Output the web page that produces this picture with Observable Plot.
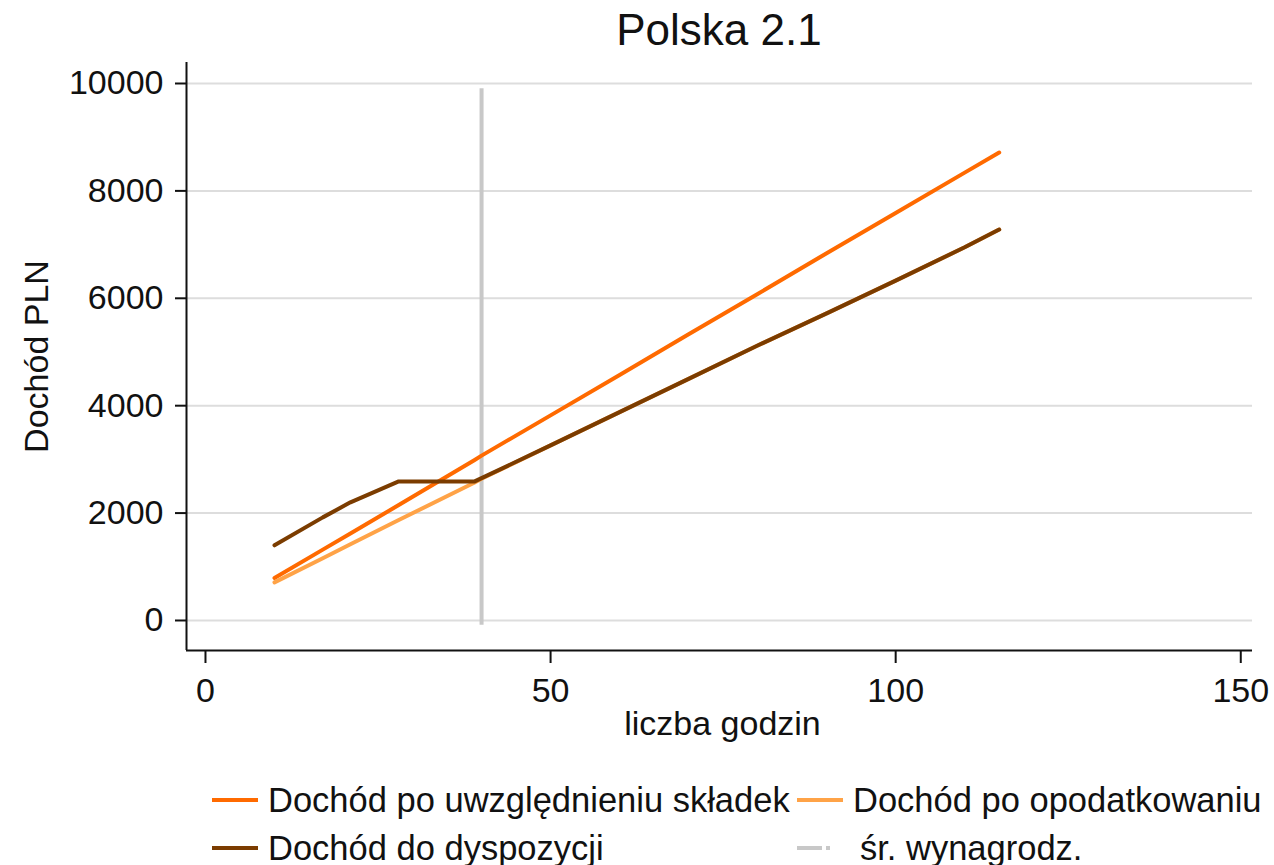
<!DOCTYPE html>
<html><head><meta charset="utf-8">
<script src="https://cdn.jsdelivr.net/npm/d3@7"></script>
<script src="https://cdn.jsdelivr.net/npm/@observablehq/plot@0.6"></script>
<style>
body{margin:0;background:#fff;font-family:"Liberation Sans",Arial,sans-serif;}
#wrap{position:relative;width:1274px;height:865px;overflow:hidden;background:#fff;}
#title{position:absolute;left:186px;width:1066px;top:0;height:60px;line-height:60px;text-align:center;font-size:44px;color:#111;}
#chart{position:absolute;left:0;top:60px;}
.key{position:absolute;height:44px;display:flex;align-items:center;font-size:34.5px;color:#111;white-space:nowrap;}
.key svg{margin-right:10px;flex:none;}
</style></head><body>
<div id="wrap"><div id="title">Polska 2.1</div><div id="chart"></div><div id="legend"></div></div>
<script>
// Data
const hours = [10, 17, 21, 28, 39, 40, 50, 60, 70, 80, 90, 100, 110, 115];
const incomeAfterContrib = [790, 1320, 1620, 2150, 2990, 3070, 3820, 4570, 5330, 6080, 6840, 7590, 8340, 8715];
const incomeAfterTax     = [710, 1160, 1420, 1870, 2570, 2640, 3260, 3880, 4500, 5120, 5720, 6330, 6950, 7280];
const disposableIncome   = [1400, 1920, 2200, 2590, 2590, 2650, 3260, 3880, 4500, 5120, 5720, 6330, 6950, 7280];
const seriesNames = ["Dochód po uwzględnieniu składek", "Dochód po opodatkowaniu", "Dochód do dyspozycji"];
const seriesColors = ["#ff6a00", "#ffa347", "#7b3c00"];
const avgWageHours = [40];
const avgWageSpan = [-90, 9900];
const avgWageLabel = "śr. wynagrodz.";
const xTicks = [0, 50, 100, 150];
const yTicks = [0, 2000, 4000, 6000, 8000, 10000];
const xDomain = [-2.75, 151.7];
const yDomain = [-559, 10391];

const seriesValues = [incomeAfterContrib, incomeAfterTax, disposableIncome];
const rows = seriesNames.flatMap((name, s) => hours.map((h, i) => ({h, v: seriesValues[s][i], name})));

const font = '"Liberation Sans", Arial, sans-serif';
const chart = Plot.plot({
  width: 1274, height: 700,
  marginLeft: 186, marginRight: 22, marginTop: 2, marginBottom: 110,
  style: {fontFamily: font, fontSize: "34px", color: "#111", background: "white", overflow: "visible"},
  x: {domain: xDomain, axis: null},
  y: {domain: yDomain, axis: null},
  color: {domain: seriesNames, range: seriesColors},
  marks: [
    Plot.gridY(yTicks, {stroke: "#dddddd", strokeOpacity: 1, strokeWidth: 2}),
    Plot.ruleX([xDomain[0]], {stroke: "#111", strokeWidth: 2}),
    Plot.ruleY([yDomain[0]], {stroke: "#111", strokeWidth: 2}),
    Plot.axisY(yTicks, {tickSize: 11, tickPadding: 12, strokeWidth: 2, tickFormat: d => String(d), label: null, fontSize: 34}),
    Plot.axisX(xTicks, {tickSize: 13, tickPadding: 14, strokeWidth: 2, tickFormat: d => String(d), label: null, fontSize: 34}),
    Plot.ruleX(avgWageHours, {y1: avgWageSpan[0], y2: avgWageSpan[1], stroke: "#c8c8c8", strokeWidth: 4}),
    Plot.line(rows, {x: "h", y: "v", z: "name", stroke: "name", strokeWidth: 4}),
    Plot.text(["liczba godzin"], {frameAnchor: "bottom", dx: 3, dy: 84, fontSize: 34, fill: "#111"}),
    Plot.text(["Dochód PLN"], {frameAnchor: "left", dx: -149, rotate: -90, textAnchor: "middle", fontSize: 34, fill: "#111"})
  ]
});
document.getElementById("chart").appendChild(chart);

// Legend
const legend = document.getElementById("legend");
const keys = [
  {label: seriesNames[0], color: seriesColors[0], left: 212, top: 778},
  {label: seriesNames[1], color: seriesColors[1], left: 797, top: 778},
  {label: seriesNames[2], color: seriesColors[2], left: 212, top: 826},
  {label: avgWageLabel, color: "#c8c8c8", left: 797, top: 826, dashed: true}
];
for (const k of keys) {
  const d = document.createElement("div");
  d.className = "key";
  d.style.left = k.left + "px";
  d.style.top = k.top + "px";
  const dash = k.dashed ? ' stroke-dasharray="25 4 4 30"' : "";
  d.innerHTML = `<svg width="${k.dashed ? 53 : 46}" height="8"><line x1="0" x2="${k.dashed ? 53 : 46}" y1="4" y2="4" stroke="${k.color}" stroke-width="4"${dash}/></svg><span>${k.label}</span>`;
  legend.appendChild(d);
}
</script>
</body></html>
